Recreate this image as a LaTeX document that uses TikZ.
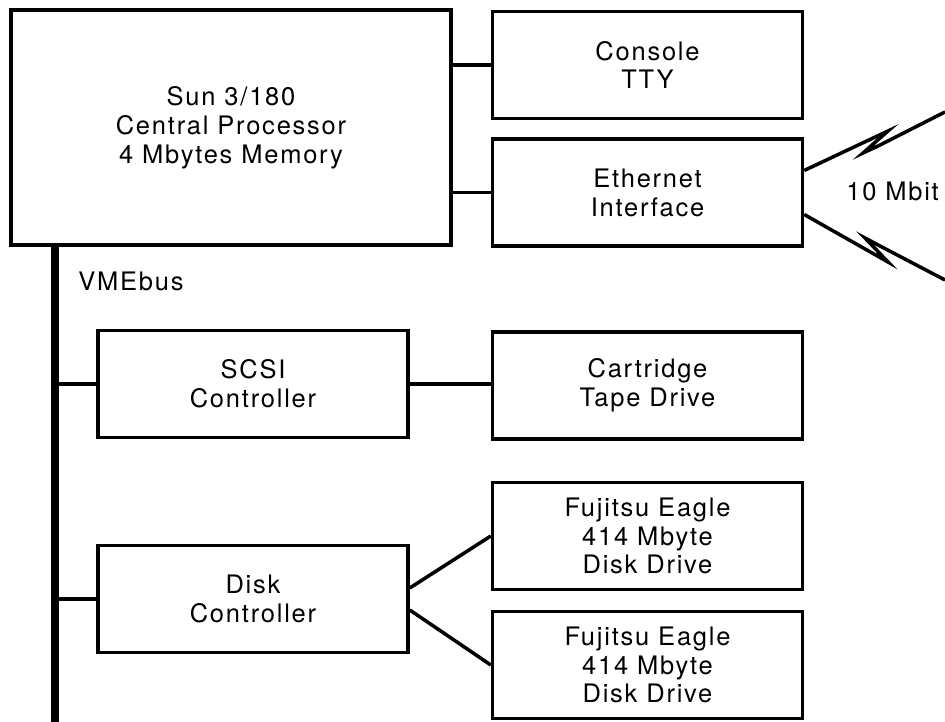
\documentclass[tikz,border=0pt]{standalone}
\usepackage{fontspec}
\setmainfont{TeX Gyre Heros}[LetterSpace=7]
\usetikzlibrary{calc}

\begin{document}
\begin{tikzpicture}[x=0.02cm, y=-0.02cm,
  unit/.style={rectangle, draw=black, line width=2pt, fill=white,
    font=\fontsize{14.5}{16.4}\selectfont, align=center,
    minimum width=6.2cm, minimum height=2.14cm, inner sep=0pt},
  link/.style={draw=black, line width=2pt},
  bus/.style={draw=black, line width=5pt},
  lbl/.style={font=\fontsize{14.5}{16.4}\selectfont, inner sep=0pt},
]
\useasboundingbox (0,0) rectangle (945,722);

% processor and its two ports
\node[unit, minimum width=8.8cm, minimum height=4.7cm] (cpu) at (231,127.5)
  {Sun 3/180\\Central Processor\\4 Mbytes Memory};
\node[unit] (tty) at (647.5,65)    {Console\\TTY};
\node[unit] (eth) at (647.5,192.5) {Ethernet\\Interface};

% VMEbus devices
\node[unit] (scsi)   at (253,384)   {SCSI\\Controller};
\node[unit] (tape)   at (647.5,385.5) {Cartridge\\Tape Drive};
\node[unit] (dkc)    at (253,599)   {Disk\\Controller};
\node[unit] (eagleA) at (647.5,536) {Fujitsu Eagle\\414 Mbyte\\Disk Drive};
\node[unit] (eagleB) at (647.5,665) {Fujitsu Eagle\\414 Mbyte\\Disk Drive};

\node[lbl, anchor=west] (vme)  at (78,281)  {VMEbus};
\node[lbl, anchor=west] (rate) at (846,191) {10 Mbit};

\coordinate (busTop)  at (55,245);
\coordinate (busEnd)  at (55,722);
\coordinate (netUp)   at (945,112);
\coordinate (netDown) at (945,280);

\draw[bus] (busTop) -- (busEnd);

\draw[link] (tty.west) -- (tty.west -| cpu.east);
\draw[link] (eth.west) -- (eth.west -| cpu.east);
\draw[link] (scsi.west) -- (scsi.west -| busTop);
\draw[link] (dkc.west) -- (dkc.west -| busTop);
\draw[link] (scsi.east) -- (scsi.east -| tape.west);
\draw[link] (dkc.4) -- (eagleA.west);
\draw[link] (dkc.-4) -- (eagleB.west);

% network lines with the lightning breaks
\draw[link] (eth.8) -- (888,131) -- (863,153) -- (878,146) -- (netUp);
\draw[link] (eth.-8) -- (888,262) -- (865,238) -- (880,246) -- (netDown);

\end{tikzpicture}
\end{document}
